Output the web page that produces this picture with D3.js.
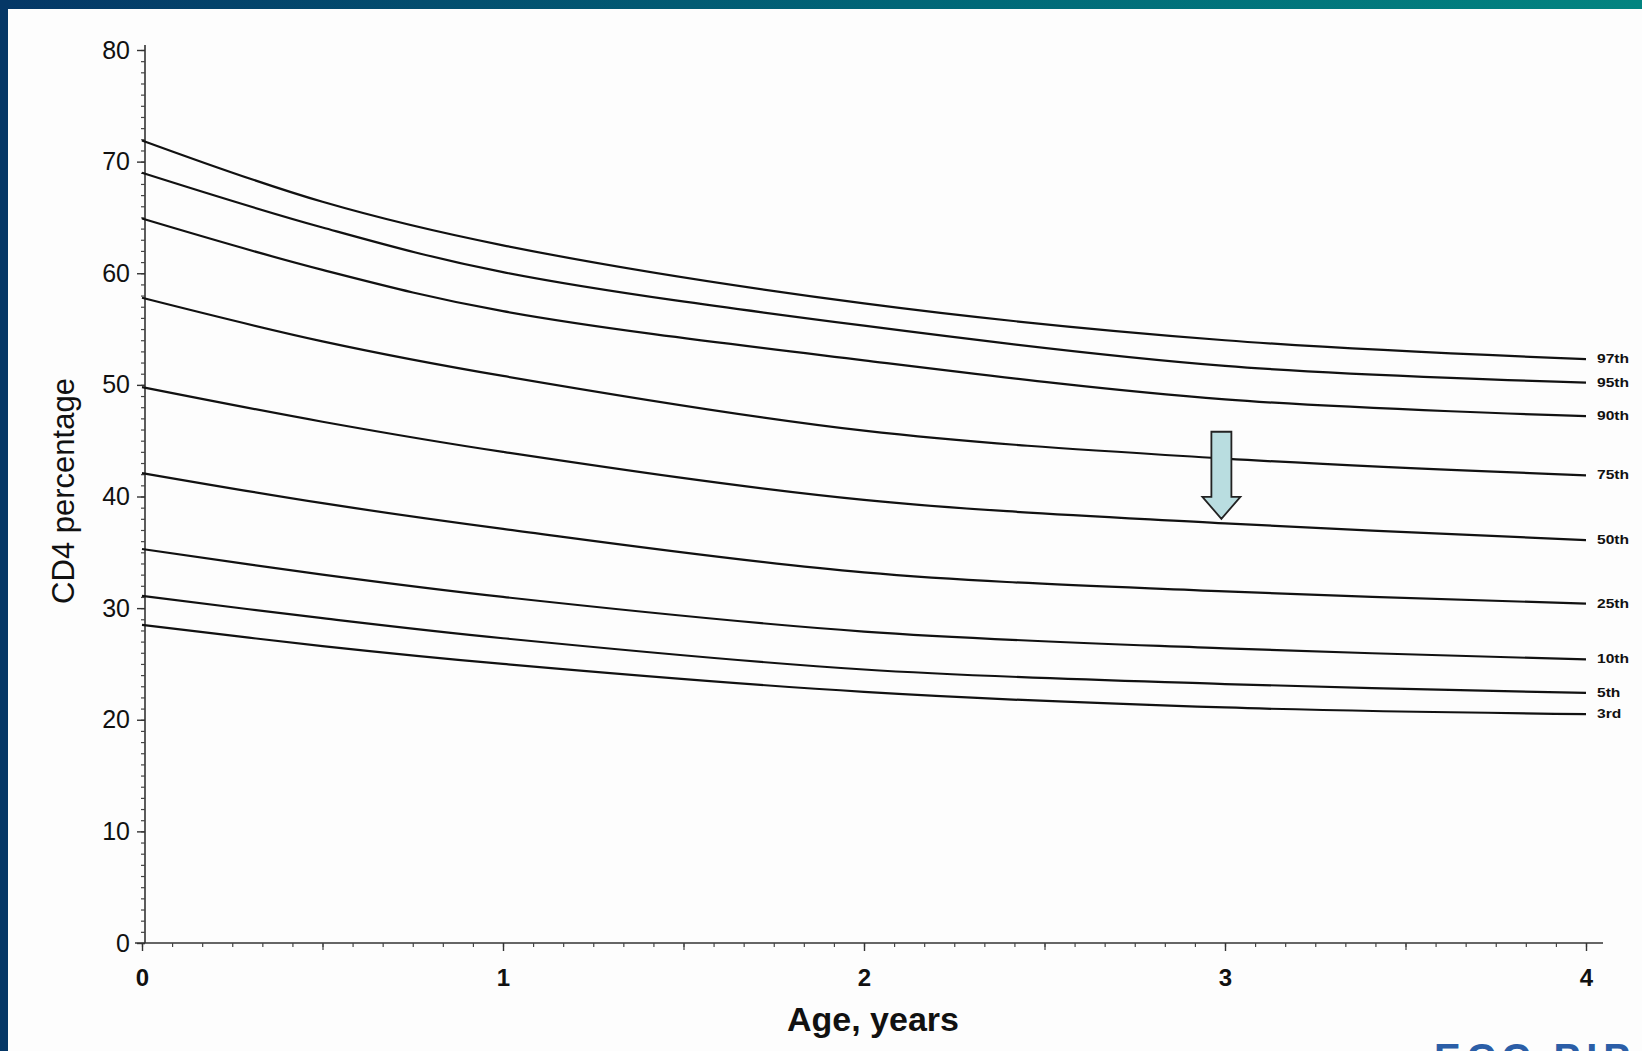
<!DOCTYPE html>
<html>
<head>
<meta charset="utf-8">
<script src="https://cdn.jsdelivr.net/npm/d3@7"></script>
<style>
  html, body { margin: 0; padding: 0; background: #fdfdfd; overflow: hidden; }
  svg { display: block; font-family: "Liberation Sans", Arial, sans-serif; }
</style>
</head>
<body>
<div id="chart"></div>
<script>
// Data
const ages = [0, 0.5, 1, 2, 3, 4];
const centiles = ["97th", "95th", "90th", "75th", "50th", "25th", "10th", "5th", "3rd"];
const p97 = [71.9, 66.4, 62.5, 57.3, 54.0, 52.3];
const p95 = [69.0, 64.1, 60.1, 55.3, 51.7, 50.2];
const p90 = [64.9, 60.3, 56.6, 52.2, 48.7, 47.2];
const p75 = [57.8, 53.9, 50.8, 45.9, 43.4, 41.9];
const p50 = [49.8, 46.7, 44.0, 39.7, 37.6, 36.1];
const p25 = [42.1, 39.4, 37.1, 33.2, 31.5, 30.4];
const p10 = [35.3, 33.0, 31.0, 27.9, 26.4, 25.4];
const p5  = [31.1, 29.1, 27.3, 24.5, 23.2, 22.4];
const p3  = [28.5, 26.6, 25.0, 22.5, 21.1, 20.5];
const seriesValues = [p97, p95, p90, p75, p50, p25, p10, p5, p3];

const xMajor = [0, 1, 2, 3, 4];
const yMajor = [0, 10, 20, 30, 40, 50, 60, 70, 80];

// arrow annotation (age, from, to)
const arrow = { age: 2.99, from: 45.8, to: 38.0 };

const width = 1642, height = 1051;

const svg = d3.select("#chart")
  .append("svg")
  .attr("width", width)
  .attr("height", height);

// Slide frame
const defs = svg.append("defs");
const grad = defs.append("linearGradient").attr("id", "topbar");
grad.append("stop").attr("offset", "0%").attr("stop-color", "#053766");
grad.append("stop").attr("offset", "55%").attr("stop-color", "#016677");
grad.append("stop").attr("offset", "100%").attr("stop-color", "#028480");

svg.append("rect").attr("width", width).attr("height", height).attr("fill", "#fdfdfd");
svg.append("rect").attr("x", 0).attr("y", 0).attr("width", width).attr("height", 9)
  .attr("fill", "url(#topbar)");
svg.append("rect").attr("x", 0).attr("y", 0).attr("width", 8).attr("height", height)
  .attr("fill", "#053766");

// Scales
const x = d3.scaleLinear().domain([0, 4]).range([142, 1586]);
const y = d3.scaleLinear().domain([0, 80]).range([943, 50]);

// Y axis: minor then major
svg.append("g")
  .attr("transform", "translate(145,0)")
  .call(d3.axisLeft(y).tickValues(d3.range(0, 81, 1)).tickSize(4).tickSizeOuter(0).tickFormat(""))
  .call(g => g.select(".domain").attr("stroke", "#333").attr("stroke-width", 1.6)
    .attr("d", `M0,${y(0)}V${y(80) - 5}`))
  .call(g => g.selectAll(".tick line").attr("stroke", "#444").attr("stroke-width", 1.2));

svg.append("g")
  .attr("transform", "translate(145,0)")
  .call(d3.axisLeft(y).tickValues(yMajor).tickSize(8).tickSizeOuter(0).tickPadding(7))
  .call(g => g.select(".domain").remove())
  .call(g => g.selectAll(".tick line").attr("stroke", "#333").attr("stroke-width", 1.4))
  .call(g => g.selectAll(".tick text")
    .attr("fill", "#111")
    .attr("font-size", 25)
    .attr("font-family", "'Liberation Sans', Arial, sans-serif"));

// X axis: monthly, half-year, year
svg.append("g")
  .attr("transform", `translate(0,${y(0)})`)
  .call(d3.axisBottom(x).tickValues(d3.range(0, 49).map(m => m / 12)).tickSize(4).tickSizeOuter(0).tickFormat(""))
  .call(g => g.select(".domain").attr("stroke", "#333").attr("stroke-width", 1.6)
    .attr("d", `M135,0H1603`))
  .call(g => g.selectAll(".tick line").attr("stroke", "#444").attr("stroke-width", 1.2));

svg.append("g")
  .attr("transform", `translate(0,${y(0)})`)
  .call(d3.axisBottom(x).tickValues([0.5, 1.5, 2.5, 3.5]).tickSize(7).tickFormat(""))
  .call(g => g.select(".domain").remove())
  .call(g => g.selectAll(".tick line").attr("stroke", "#444").attr("stroke-width", 1.2));

svg.append("g")
  .attr("transform", `translate(0,${y(0)})`)
  .call(d3.axisBottom(x).tickValues(xMajor).tickSize(8).tickPadding(18).tickFormat(d3.format("d")))
  .call(g => g.select(".domain").remove())
  .call(g => g.selectAll(".tick line").attr("stroke", "#333").attr("stroke-width", 1.4))
  .call(g => g.selectAll(".tick text")
    .attr("fill", "#111")
    .attr("font-size", 24)
    .attr("font-weight", "bold")
    .attr("font-family", "'Liberation Sans', Arial, sans-serif"));

// Centile curves
const line = d3.line()
  .x((d, i) => x(ages[i]))
  .y(d => y(d))
  .curve(d3.curveCatmullRom.alpha(0.5));

svg.append("g")
  .selectAll("path")
  .data(seriesValues)
  .join("path")
  .attr("d", line)
  .attr("fill", "none")
  .attr("stroke", "#111")
  .attr("stroke-width", 2.2);

// Right-hand labels
svg.append("g")
  .selectAll("text")
  .data(seriesValues)
  .join("text")
  .attr("transform", d => `translate(${x(4) + 11},${y(d[d.length - 1]) + 4}) scale(1.3,1)`)
  .attr("font-size", 12)
  .attr("font-weight", "bold")
  .attr("fill", "#111")
  .text((d, i) => centiles[i]);

// Arrow annotation
const ax = x(arrow.age), ay0 = y(arrow.from), ay1 = y(arrow.to);
const shaftW = 10, headW = 19, headL = 22;
svg.append("path")
  .attr("d", `M${ax - shaftW},${ay0}H${ax + shaftW}V${ay1 - headL}H${ax + headW}L${ax},${ay1}L${ax - headW},${ay1 - headL}H${ax - shaftW}Z`)
  .attr("fill", "#b9dde0")
  .attr("stroke", "#222")
  .attr("stroke-width", 1.8)
  .attr("stroke-linejoin", "miter");

// Axis titles
svg.append("text")
  .attr("transform", "translate(74,491) rotate(-90)")
  .attr("text-anchor", "middle")
  .attr("font-size", 31)
  .attr("fill", "#111")
  .text("CD4 percentage");

svg.append("text")
  .attr("x", 873)
  .attr("y", 1031)
  .attr("text-anchor", "middle")
  .attr("font-size", 34)
  .attr("font-weight", "bold")
  .attr("fill", "#111")
  .text("Age, years");

// Cut-off slide footer text
svg.append("text")
  .attr("x", 1434)
  .attr("y", 1072)
  .attr("font-size", 40)
  .attr("font-weight", "bold")
  .attr("letter-spacing", 6)
  .attr("fill", "#2b5ea7")
  .text("ECC PIP");
</script>
</body>
</html>
